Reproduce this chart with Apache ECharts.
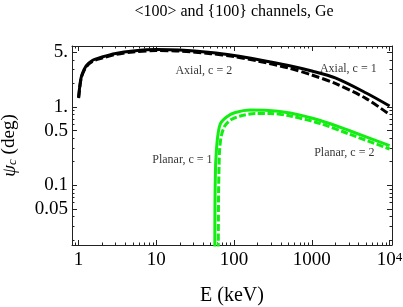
<!DOCTYPE html>
<html><head><meta charset="utf-8">
<script src="https://cdn.jsdelivr.net/npm/echarts@6/dist/echarts.min.js"></script>
<style>html,body{margin:0;padding:0;background:#fff}#c{width:403px;height:307px}</style>
</head><body><div id="c"></div>
<script>
// ---- data (E in keV, psi_c in degrees) ----
const titleText = '<100> and {100} channels, Ge';
const axialE  = [1, 1.05, 1.1, 1.25, 1.5, 2, 3, 5, 10, 20, 50, 100, 200, 500, 1000, 2000, 5000, 10000];
const axialC1 = [1.34, 2.05, 2.56, 3.34, 3.93, 4.35, 4.83, 5.19, 5.42, 5.34, 4.97, 4.55, 4.05, 3.39, 2.88, 2.35, 1.51, 1.03];
const axialC2 = [1.30, 1.99, 2.49, 3.24, 3.82, 4.22, 4.69, 5.04, 5.26, 5.18, 4.80, 4.41, 3.87, 3.15, 2.56, 2.00, 1.28, 0.80];
const planarE1  = [56.5, 56.6, 57.0, 57.8, 58.2, 60.8, 66.4, 81.0, 103.6, 161.6, 252, 528, 1284, 3123, 10000];
const planarC1  = [0.0149, 0.036, 0.087, 0.182, 0.21, 0.38, 0.607, 0.752, 0.851, 0.915, 0.91, 0.838, 0.672, 0.494, 0.321];
const planarE2  = [62.6, 62.8, 63.2, 64.1, 65.1, 68.4, 75.9, 92.0, 120.2, 187.3, 292, 528, 1284, 3123, 10000];
const planarC2  = [0.0149, 0.036, 0.087, 0.182, 0.282, 0.426, 0.572, 0.692, 0.767, 0.826, 0.826, 0.767, 0.615, 0.446, 0.291];
const xTickValues = [1, 10, 100, 1000, 10000];
const xTickLabels = ['1', '10', '100', '1000', '10{sup|4}'];
const xMinorValues = [0.9, 2,3,4,5,6,7,8,9, 20,30,40,50,60,70,80,90, 200,300,400,500,600,700,800,900, 2000,3000,4000,5000,6000,7000,8000,9000];
const yTickValues = [0.05, 0.1, 0.5, 1, 5];
const yTickLabels = ['0.05', '0.1', '0.5', '1.', '5.'];
const yMinorValues = [0.02,0.03,0.04,0.06,0.07,0.08,0.09, 0.2,0.3,0.4,0.6,0.7,0.8,0.9, 2,3,4];
const noteTexts = ['Axial, c = 2', 'Axial, c = 1', 'Planar, c = 1', 'Planar, c = 2'];
const noteE     = [40.8, 2944, 21.6, 2614];
const notePsi   = [2.88, 3.06, 0.21, 0.259];

// ---- chart ----
const L = Math.log10;
const xRange = [L(0.822), L(10740)];
const yRange = [L(0.0173), L(6.01)];
const FONT = 'Liberation Serif';
const FRAME = '#222';
const GREEN = '#12ee12';

function pairs(es, vs) { return es.map((e, i) => [L(e), L(vs[i])]); }
function labelFor(vals, labels) {
  return function (v) {
    for (let i = 0; i < vals.length; i++) if (Math.abs(L(vals[i]) - v) < 1e-6) return labels[i];
    return '';
  };
}
function xAx(pos, ticks, len, showLine, withLabels) {
  const a = {
    type: 'value', position: pos, min: xRange[0], max: xRange[1],
    axisLine: { show: showLine, onZero: false, lineStyle: { color: FRAME, width: 1 } },
    axisTick: { show: true, inside: true, length: len, customValues: ticks.map(L), lineStyle: { color: FRAME, width: 1 } },
    axisLabel: { show: false },
    splitLine: { show: false }
  };
  if (withLabels) {
    a.axisLabel = { show: true, customValues: xTickValues.map(L), formatter: labelFor(xTickValues, xTickLabels),
      margin: 6, fontFamily: FONT, fontSize: 19, color: '#000',
      rich: { sup: { fontFamily: FONT, fontSize: 13, verticalAlign: 'top', color: '#000' } } };
    a.name = 'E (keV)'; a.nameLocation = 'middle'; a.nameGap = 41;
    a.nameTextStyle = { fontFamily: FONT, fontSize: 20, color: '#000' };
  }
  return a;
}
function yAx(pos, ticks, len, showLine, withLabels) {
  const a = {
    type: 'value', position: pos, min: yRange[0], max: yRange[1],
    axisLine: { show: showLine, onZero: false, lineStyle: { color: FRAME, width: 1 } },
    axisTick: { show: true, inside: true, length: len, customValues: ticks.map(L), lineStyle: { color: FRAME, width: 1 } },
    axisLabel: { show: false },
    splitLine: { show: false }
  };
  if (withLabels) {
    a.axisLabel = { show: true, customValues: yTickValues.map(L), formatter: labelFor(yTickValues, yTickLabels),
      margin: 4, fontFamily: FONT, fontSize: 19, color: '#000' };
    a.name = '{i|\u03c8}{s|c} (deg)'; a.nameLocation = 'middle'; a.nameGap = 53; a.nameRotate = 90;
    a.nameTextStyle = { fontFamily: FONT, fontSize: 19, color: '#000',
      rich: { i: { fontFamily: FONT, fontSize: 19, fontStyle: 'italic', color: '#000' },
              s: { fontFamily: FONT, fontSize: 13, fontStyle: 'italic', verticalAlign: 'bottom', color: '#000' } } };
  }
  return a;
}

const chart = echarts.init(document.getElementById('c'), null, { renderer: 'canvas' });
chart.setOption({
  animation: false,
  backgroundColor: '#fff',
  graphic: [{ type: 'text', x: 234, y: 12, style: { text: titleText, fontFamily: FONT, fontSize: 16, fill: '#000', textAlign: 'center', textVerticalAlign: 'middle' } }],
  grid: { left: 72, top: 46, right: 11, bottom: 62, containLabel: false, outerBoundsMode: 'none' },
  xAxis: [
    xAx('bottom', xTickValues, 5, true, true),
    xAx('bottom', xMinorValues, 2.5, false, false),
    xAx('top', xTickValues, 5, true, false),
    xAx('top', xMinorValues, 2.5, false, false)
  ],
  yAxis: [
    yAx('left', yTickValues, 5, true, true),
    yAx('left', yMinorValues, 2.5, false, false),
    yAx('right', yTickValues, 5, true, false),
    yAx('right', yMinorValues, 2.5, false, false)
  ],
  series: [
    { type: 'line', data: pairs(axialE, axialC1), symbol: 'none', smooth: 0.3, clip: true,
      lineStyle: { color: '#000', width: 3 } },
    { type: 'line', data: pairs(axialE, axialC2), symbol: 'none', smooth: 0.3, clip: true,
      lineStyle: { color: '#000', width: 3, type: [8, 3] } },
    { type: 'line', data: pairs(planarE1, planarC1), symbol: 'none', smooth: 0.3, clip: true,
      lineStyle: { color: GREEN, width: 3 } },
    { type: 'line', data: pairs(planarE2, planarC2), symbol: 'none', smooth: 0.3, clip: true,
      lineStyle: { color: GREEN, width: 3, type: [7, 2.5] } },
    { type: 'scatter', symbolSize: 0.01, itemStyle: { color: 'rgba(0,0,0,0)' }, silent: true,
      data: noteTexts.map((t, i) => ({ name: t, value: [L(noteE[i]), L(notePsi[i])] })),
      label: { show: true, position: 'inside', formatter: '{b}', fontFamily: FONT, fontSize: 12, color: '#000' } }
  ]
});
</script></body></html>
